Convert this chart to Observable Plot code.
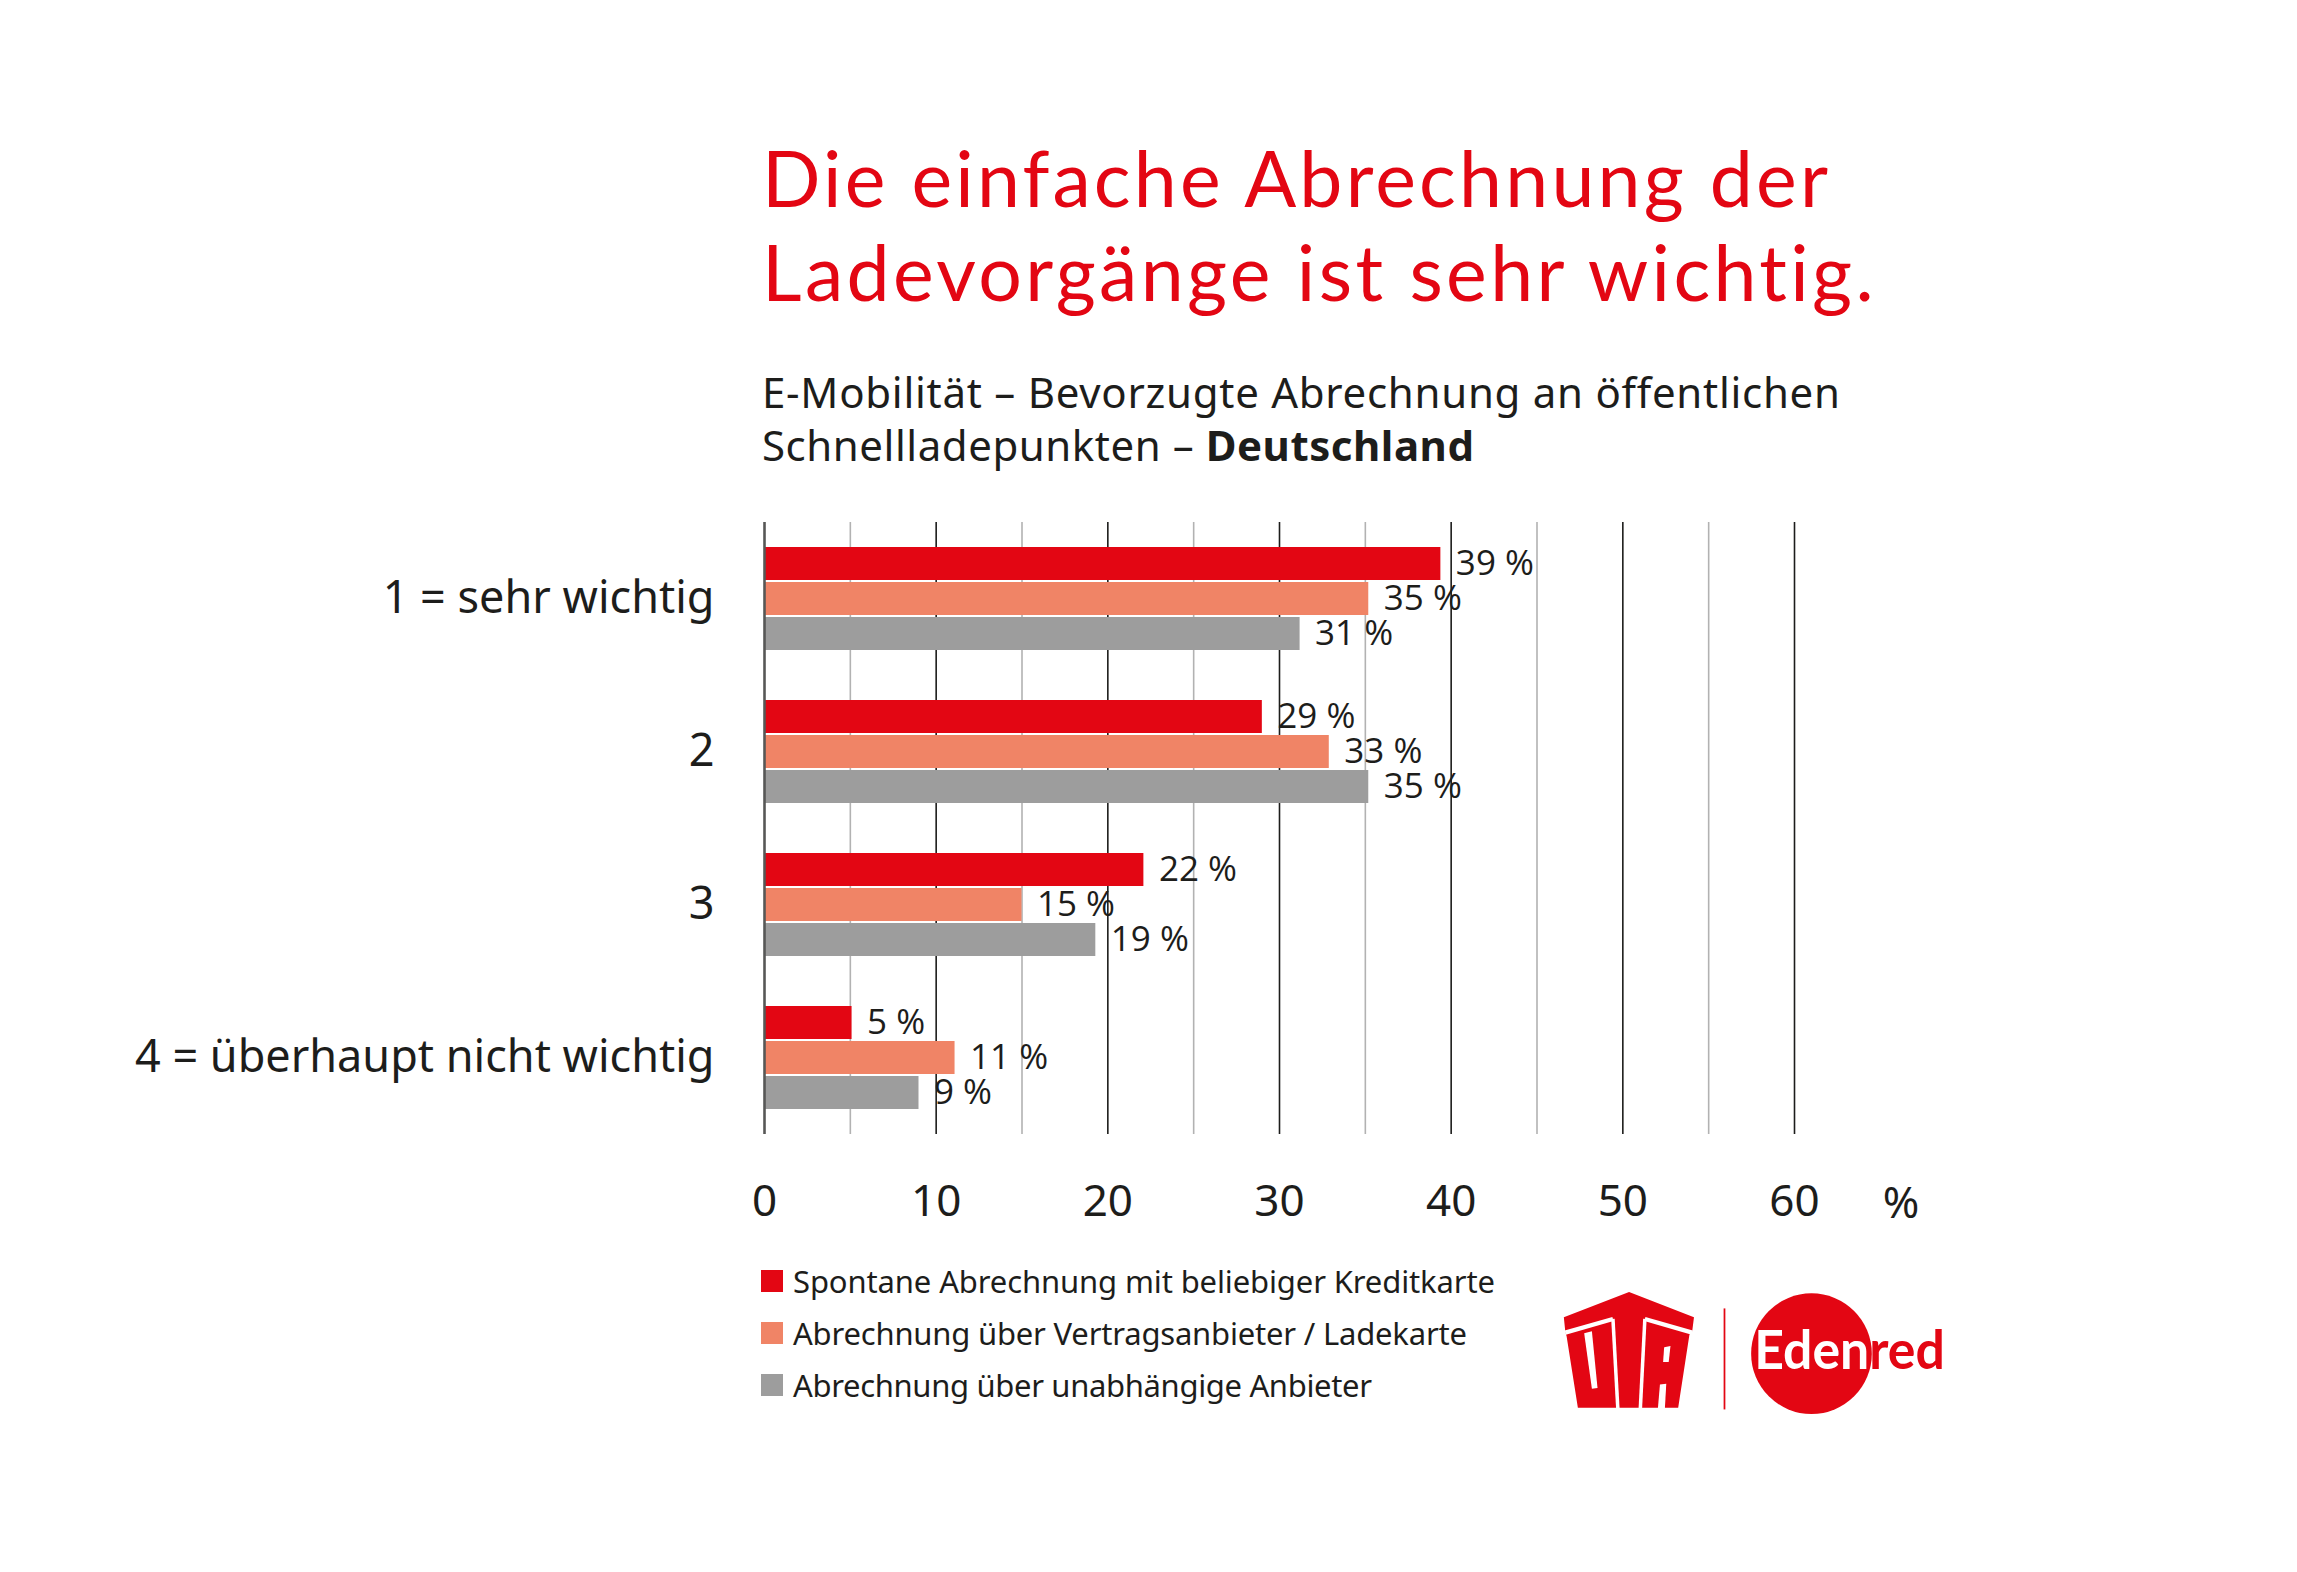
<!DOCTYPE html>
<html lang="de">
<head>
<meta charset="utf-8">
<script src="https://cdn.jsdelivr.net/npm/d3@7"></script>
<script src="https://cdn.jsdelivr.net/npm/@observablehq/plot@0.6"></script>
<style>
  html, body { margin: 0; padding: 0; background: #fff; overflow: hidden; }
  #page { position: relative; width: 2297px; height: 1572px; background: #fff; overflow: hidden; }
  .title { position: absolute; left: 762px; top: 130px; font-family: Lato, sans-serif; font-size: 77px; line-height: 94px; color: #e30613; white-space: nowrap; }
  .subtitle { position: absolute; left: 762px; top: 365px; font-family: "Noto Sans", sans-serif; font-size: 42px; line-height: 53.4px; color: #1d1d1b; white-space: nowrap; }
  .line { display: inline-block; white-space: nowrap; }
  #chart { position: absolute; left: 0; top: 478px; }
  .unit { position: absolute; left: 1901px; top: 1201px; transform: translate(-50%, -50%); font-family: "Noto Sans", sans-serif; font-size: 44px; line-height: 44px; color: #1d1d1b; }
  .legend-row { position: absolute; left: 761px; height: 30px; display: flex; align-items: center; font-family: "Noto Sans", sans-serif; font-size: 31px; color: #1d1d1b; white-space: nowrap; }
  .legend-row .sw { width: 22px; height: 22px; margin-right: 10px; flex: none; }
  #logos { position: absolute; left: 1500px; top: 1247px; }
</style>
</head>
<body>
<div id="page">
  <div class="title"><span class="line" data-w="1066">Die einfache Abrechnung der</span><br><span class="line" data-w="1113">Ladevorgänge ist sehr wichtig.</span></div>
  <div class="subtitle"><span class="line" data-w="1078">E-Mobilität – Bevorzugte Abrechnung an öffentlichen</span><br><span class="line" data-w="712">Schnellladepunkten – <b>Deutschland</b></span></div>
  <div id="chart"></div>
  <div class="unit">%</div>
  <div id="legend"></div>
  <svg id="logos" width="550" height="200" viewBox="0 0 1568 570">
    <defs><clipPath id="circ"><circle cx="888" cy="304" r="172"></circle></clipPath></defs>
    <polygon points="182,200 368,128 553,200 548,240 540,250 508,458 222,458 190,255 186,240" fill="#e30613"></polygon>
    <line x1="186" y1="244" x2="322" y2="205" stroke="#fff" stroke-width="12"></line>
    <line x1="413" y1="205" x2="548" y2="244" stroke="#fff" stroke-width="12"></line>
    <line x1="322" y1="205" x2="336" y2="462" stroke="#fff" stroke-width="10"></line>
    <line x1="413" y1="205" x2="400" y2="462" stroke="#fff" stroke-width="10"></line>
    <polygon points="240,246 262,240 278,402 262,404" fill="#fff"></polygon>
    <polygon points="468,286 486,282 481,328 465,328" fill="#fff"></polygon>
    <polygon points="456,392 474,390 470,462 450,462" fill="#fff"></polygon>
    <line x1="640" y1="175" x2="640" y2="463" stroke="#e30613" stroke-width="5"></line>
    <circle cx="888" cy="304" r="172" fill="#e30613"></circle>
    <text x="725" y="348" font-family="Lato, sans-serif" font-weight="700" font-size="150" textLength="543" lengthAdjust="spacingAndGlyphs" fill="#e30613">Edenred</text>
    <text x="725" y="348" font-family="Lato, sans-serif" font-weight="700" font-size="150" textLength="543" lengthAdjust="spacingAndGlyphs" fill="#fff" clip-path="url(#circ)">Edenred</text>
  </svg>
</div>
<script>
// ---- Data ----
const categories = ["1 = sehr wichtig", "2", "3", "4 = überhaupt nicht wichtig"];
const series = [
  "Spontane Abrechnung mit beliebiger Kreditkarte",
  "Abrechnung über Vertragsanbieter / Ladekarte",
  "Abrechnung über unabhängige Anbieter"
];
const seriesColors = ["#e30613", "#f08466", "#9d9d9d"];
const kreditkarte = [39.4, 29.0, 22.1, 5.1];
const vertragsanbieter = [35.2, 32.9, 15.0, 11.1];
const unabhaengig = [31.2, 35.2, 19.3, 9.0];
const majorTicks = [0, 10, 20, 30, 40, 50, 60];
const minorTicks = [5, 15, 25, 35, 45, 55];
const legendTops = [1266, 1318, 1370];

const seriesValues = [kreditkarte, vertragsanbieter, unabhaengig];
const data = categories.flatMap((c, i) => series.map((s, j) => ({category: c, series: s, value: seriesValues[j][i]})));

const chart = Plot.plot({
  width: 2297,
  height: 767,
  marginLeft: 764,
  marginRight: 503,
  marginTop: 42,
  marginBottom: 110,
  style: {fontFamily: "'Noto Sans', sans-serif", fontSize: "44px", color: "#1d1d1b", background: "transparent"},
  x: {domain: [0, 60], ticks: majorTicks, tickSize: 0, tickPadding: 50, label: null, tickFormat: d => String(d)},
  y: {domain: series, axis: null, paddingInner: 0.062, paddingOuter: 0.66},
  fy: {domain: categories, label: null, axis: "left", tickSize: 0, tickPadding: 50, paddingInner: 0, paddingOuter: 0},
  color: {domain: series, range: seriesColors},
  marks: [
    Plot.ruleX(minorTicks, {stroke: "#b2b2b2", strokeWidth: 1.6}),
    Plot.ruleX(majorTicks.slice(1), {stroke: "#1d1d1b", strokeWidth: 1.6}),
    Plot.barX(data, {x: "value", y: "series", fy: "category", fill: "series"}),
    Plot.ruleX([0], {stroke: "#575756", strokeWidth: 2.6}),
    Plot.text(data, {x: "value", y: "series", fy: "category", text: d => `${Math.round(d.value)} %`, textAnchor: "start", dx: 15, fontSize: 35, fontFamily: "'Open Sans', sans-serif", fill: "#1d1d1b"})
  ]
});
document.getElementById("chart").appendChild(chart);
// category labels slightly larger, like the reference
chart.querySelectorAll("g[aria-label='fy-axis tick label'] text").forEach(t => t.setAttribute("font-size", "45"));

// Legend
const legend = document.getElementById("legend");
series.forEach((s, j) => {
  const row = document.createElement("div");
  row.className = "legend-row";
  row.style.top = legendTops[j] + "px";
  const sw = document.createElement("span");
  sw.className = "sw";
  sw.style.background = seriesColors[j];
  const t = document.createElement("span");
  t.className = "line";
  t.textContent = s;
  t.dataset.w = [702, 674, 579][j];
  row.appendChild(sw); row.appendChild(t);
  legend.appendChild(row);
});

function fitAll() {
  document.querySelectorAll(".line[data-w]").forEach(el => {
    el.style.letterSpacing = "0px";
    const w = el.getBoundingClientRect().width;
    const n = el.textContent.length;
    const target = +el.dataset.w;
    el.style.letterSpacing = ((target - w) / (n - 1)) + "px";
  });
}
fitAll();
if (document.fonts && document.fonts.ready) document.fonts.ready.then(fitAll);
</script>
</body>
</html>
